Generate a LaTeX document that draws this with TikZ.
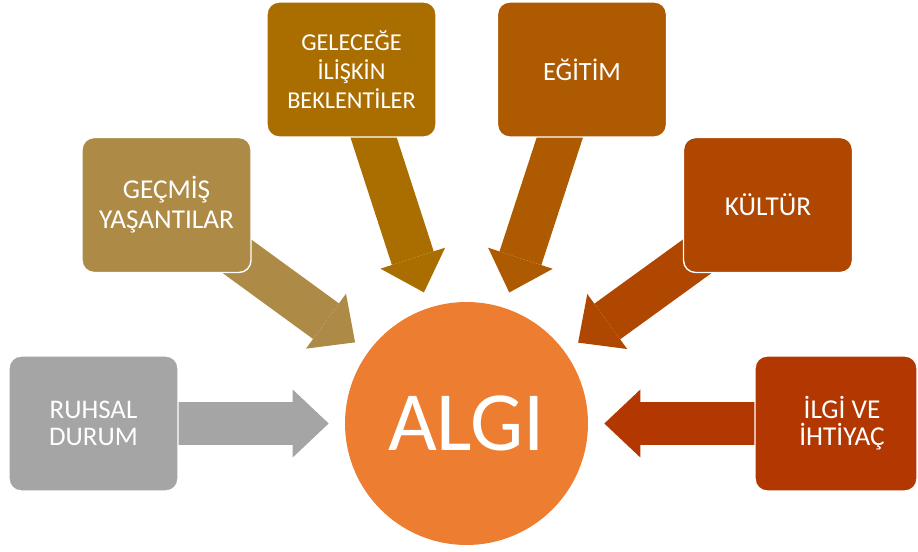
\documentclass[tikz,border=0pt]{standalone}
\usepackage{fontspec}
\setmainfont{Carlito}
\usetikzlibrary{arrows.meta,backgrounds}
\definecolor{ruhsalgray}{HTML}{A5A5A5}
\definecolor{gecmisgold}{HTML}{AD8B47}
\definecolor{gelecekbrown}{HTML}{AA6E00}
\definecolor{egitimbrown}{HTML}{AE5A00}
\definecolor{kulturrust}{HTML}{B04700}
\definecolor{ilgirust}{HTML}{B33700}
\definecolor{algiorange}{HTML}{ED7D31}
\tikzset{
  factorbox/.style  = {shape=rectangle, rounded corners=0.24cm,
                       draw=white, line width=0.8pt, fill=#1,
                       minimum width=3.38cm, minimum height=2.7cm,
                       inner sep=0pt, align=center, text=white,
                       font=\fontsize{15.5}{17}\selectfont},
  perception/.style = {shape=circle, fill=algiorange, minimum size=4.86cm,
                       inner sep=0pt, text=white,
                       font=\fontsize{48}{50}\selectfont},
  influence/.style  = {draw=#1, line width=0.88cm, shorten >=0.32cm,
                       -{Triangle[length=0.72cm, width=1.36cm, line width=0pt]}}
}

\begin{document}
\begin{tikzpicture}[x=0.02cm, y=0.02cm]
  \useasboundingbox (0,0) rectangle (918,551);
  \node [perception] (algi) at (466.5,127.5) {ALGI};
  \node [factorbox=ruhsalgray, font=\fontsize{15.3}{15}\selectfont]
        (ruhsal) at (93.5,127.5) {RUHSAL\\DURUM};
  \node [factorbox=gecmisgold] (gecmis) at (166.5,346) {GEÇMİŞ\\YAŞANTILAR};
  \node [factorbox=gelecekbrown, font=\fontsize{13.8}{16.5}\selectfont]
        (gelecek) at (351.5,481.5) {GELECEĞE\\İLİŞKİN\\BEKLENTİLER};
  \node [factorbox=egitimbrown, font=\fontsize{15}{17}\selectfont]
        (egitim) at (582,481.5) {EĞİTİM};
  \node [factorbox=kulturrust] (kultur) at (768,346) {KÜLTÜR};
  \node [factorbox=ilgirust, minimum width=3.24cm,
         font=\fontsize{15.5}{15.5}\selectfont]
        (ilgi) at (836,127.5) {\hspace{0.24cm}İLGİ VE\\\hspace{0.24cm}İHTİYAÇ};
  \begin{pgfonlayer}{background}
    \draw [influence=ruhsalgray]   (ruhsal.center)  -- (algi);
    \draw [influence=gecmisgold]   (gecmis.center)  -- (algi);
    \draw [influence=gelecekbrown] (gelecek.center) -- (algi);
    \draw [influence=egitimbrown]  (egitim.center)  -- (algi);
    \draw [influence=kulturrust]   (kultur.center)  -- (algi);
    \draw [influence=ilgirust]     (ilgi.center)    -- (algi);
  \end{pgfonlayer}
\end{tikzpicture}
\end{document}
